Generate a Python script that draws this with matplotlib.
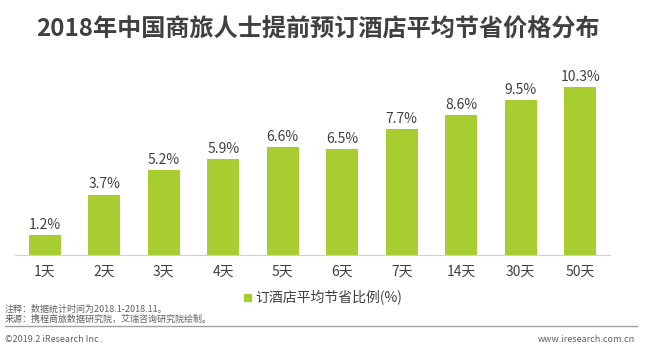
import matplotlib.pyplot as plt
from matplotlib.lines import Line2D
from matplotlib.patches import Rectangle

plt.rcParams["font.family"] = ["Noto Sans CJK SC", "DejaVu Sans"]

days = ["1天", "2天", "3天", "4天", "5天", "6天", "7天", "14天", "30天", "50天"]
savings = [1.2, 3.7, 5.2, 5.9, 6.6, 6.5, 7.7, 8.6, 9.5, 10.3]

bar_color = "#a8cd31"
text_color = "#404040"

fig = plt.figure(figsize=(6.47, 3.58), dpi=100)
ax = fig.add_axes([15 / 647, 103 / 358, 595 / 647, 187.5 / 358])

x = range(len(days))
ax.bar(x, savings, width=0.54, color=bar_color, zorder=2)
for i, v in zip(x, savings):
    ax.text(i, v + 0.2, f"{v}%", ha="center", va="bottom",
            fontsize=10, color=text_color)

ax.set_xlim(-0.5, len(days) - 0.5)
ax.set_ylim(0, 11.5)
ax.set_xticks(list(x))
ax.set_xticklabels(days, fontsize=10, color=text_color)
ax.tick_params(axis="x", length=0, pad=7)
ax.set_yticks([])
for side in ["top", "right", "left"]:
    ax.spines[side].set_visible(False)
ax.spines["bottom"].set_color("#d0d0d0")

fig.text(318 / 647, 1 - 30 / 358, "2018年中国商旅人士提前预订酒店平均节省价格分布",
         ha="center", va="center", fontsize=17.4, fontweight="bold",
         color=text_color)

# legend
fig.patches.append(Rectangle((244 / 647, 1 - 301 / 358), 7 / 647, 7 / 358,
                             transform=fig.transFigure, color=bar_color))
fig.text(255 / 647, 1 - 297 / 358, "订酒店平均节省比例(%)", ha="left",
         va="center", fontsize=10, color=text_color)

fig.text(5 / 647, 1 - 309 / 358, "注释：数据统计时间为2018.1-2018.11。",
         ha="left", va="center", fontsize=6.5, color="#606060")
fig.text(5 / 647, 1 - 319 / 358, "来源：携程商旅数据研究院，艾瑞咨询研究院绘制。",
         ha="left", va="center", fontsize=6.5, color="#606060")
fig.lines.append(Line2D([5 / 647, 637 / 647], [1 - 326 / 358, 1 - 326 / 358],
                        transform=fig.transFigure, color="#a0a0a0", lw=1))
fig.text(5 / 647, 1 - 339 / 358, "©2019.2 iResearch Inc .", ha="left",
         va="center", fontsize=6.5, color="#606060")
fig.text(635 / 647, 1 - 339 / 358, "www.iresearch.com.cn", ha="right",
         va="center", fontsize=6.5, color="#606060")

fig.savefig("out.png", dpi=100)
